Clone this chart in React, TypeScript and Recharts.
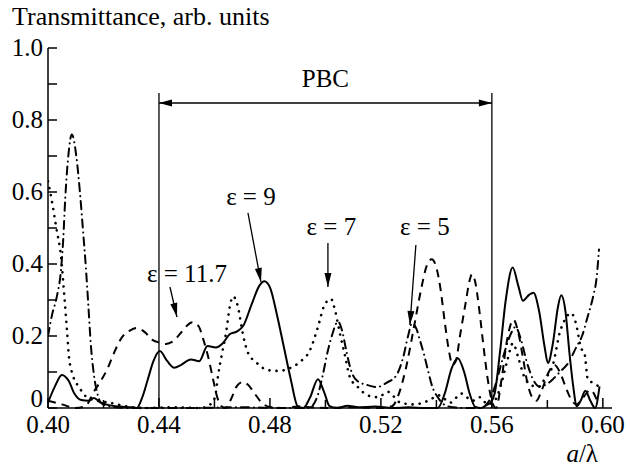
import React from 'react';
import { LineChart, Line, XAxis, YAxis, ReferenceLine } from 'recharts';

const FONT = "'Liberation Serif', 'Times New Roman', Times, serif";

// Tick values and labels
const xTicks = [0.4, 0.42, 0.44, 0.46, 0.48, 0.5, 0.52, 0.54, 0.56, 0.58, 0.6];
const xLabels = ['0.40', '0.44', '0.48', '0.52', '0.56', '0.60'];
const yTicks = [0, 0.1, 0.2, 0.3, 0.4, 0.5, 0.6, 0.7, 0.8, 0.9, 1.0];
const yLabels = ['0', '0.2', '0.4', '0.6', '0.8', '1.0'];

// eps = 9 (solid)
const eps9 = [
  [0.4, 0.015], [0.4025, 0.06], [0.405, 0.092], [0.4075, 0.075], [0.4095, 0.04], [0.412, 0.022],
  [0.4145, 0.02], [0.4165, 0.028], [0.419, 0.015], [0.422, 0.008], [0.426, 0.004], [0.43, 0.002],
  [0.432, 0.0], [0.434, 0.03], [0.436, 0.08], [0.438, 0.13], [0.4403, 0.158], [0.443, 0.13],
  [0.4455, 0.112], [0.448, 0.12], [0.4515, 0.135], [0.4545, 0.13], [0.4575, 0.172], [0.4605, 0.168],
  [0.463, 0.18], [0.4655, 0.205], [0.468, 0.212], [0.4705, 0.23], [0.4735, 0.29], [0.4762, 0.34],
  [0.478, 0.352], [0.48, 0.335], [0.4825, 0.26], [0.485, 0.17], [0.4875, 0.08], [0.49, 0.005],
  [0.492, 0.0], [0.4945, 0.03], [0.4973, 0.08], [0.4995, 0.045], [0.5015, 0.005], [0.504, 0.0],
  [0.508, 0.006], [0.512, 0.002], [0.518, 0.004], [0.524, 0.0], [0.53, 0.002], [0.536, 0.0],
  [0.5405, 0.0], [0.543, 0.04], [0.5455, 0.11], [0.5477, 0.138], [0.55, 0.1], [0.552, 0.04],
  [0.554, 0.003], [0.556, 0.0], [0.558, 0.008], [0.5595, 0.015], [0.561, 0.04], [0.563, 0.16],
  [0.565, 0.3], [0.5675, 0.39], [0.5695, 0.34], [0.5712, 0.298], [0.5735, 0.315], [0.575, 0.32],
  [0.577, 0.27], [0.579, 0.17], [0.5802, 0.125], [0.582, 0.18], [0.5838, 0.28], [0.585, 0.313],
  [0.5865, 0.27], [0.588, 0.15], [0.5895, 0.05], [0.5905, 0.005], [0.592, 0.02], [0.5937, 0.048],
  [0.5955, 0.02], [0.5972, 0.0], [0.5988, 0.06],
];

// eps = 11.7 (dashed)
const eps117 = [
  [0.4, 0.02], [0.405, 0.01], [0.41, 0.0], [0.4135, 0.005], [0.4165, 0.045], [0.419, 0.075],
  [0.4215, 0.11], [0.4238, 0.153], [0.4267, 0.197], [0.4295, 0.215], [0.432, 0.222], [0.435, 0.21],
  [0.4375, 0.19], [0.44, 0.182], [0.4425, 0.178], [0.445, 0.185], [0.4475, 0.205], [0.45, 0.228],
  [0.452, 0.238], [0.4542, 0.228], [0.456, 0.19], [0.4578, 0.14], [0.4595, 0.08], [0.461, 0.03],
  [0.4625, 0.005], [0.464, 0.0], [0.466, 0.025], [0.468, 0.06], [0.4702, 0.072], [0.472, 0.065],
  [0.4745, 0.04], [0.477, 0.015], [0.48, 0.003], [0.485, 0.0], [0.49, 0.004], [0.5, 0.0],
  [0.51, 0.002], [0.52, 0.0], [0.524, 0.005], [0.5265, 0.04], [0.529, 0.11], [0.5318, 0.22],
  [0.5345, 0.33], [0.5365, 0.395], [0.5383, 0.413], [0.54, 0.39], [0.5415, 0.33], [0.543, 0.24],
  [0.5445, 0.16], [0.5458, 0.12], [0.547, 0.13], [0.5485, 0.2], [0.5505, 0.29], [0.552, 0.355],
  [0.5528, 0.372], [0.554, 0.35], [0.5555, 0.27], [0.557, 0.17], [0.5585, 0.08], [0.56, 0.02],
  [0.5615, 0.0], [0.5635, 0.08], [0.5655, 0.19], [0.5678, 0.245], [0.5695, 0.21], [0.5712, 0.14],
  [0.5728, 0.07], [0.5745, 0.03], [0.576, 0.02], [0.578, 0.05], [0.5805, 0.1], [0.5825, 0.12],
  [0.5845, 0.1], [0.5865, 0.06], [0.5885, 0.025], [0.5905, 0.01], [0.593, 0.03], [0.5955, 0.05],
  [0.598, 0.02],
];

// eps = 7 (dotted)
const eps7 = [
  [0.4, 0.63], [0.4015, 0.57], [0.403, 0.5], [0.4047, 0.42], [0.4058, 0.32], [0.4068, 0.22],
  [0.4076, 0.14], [0.409, 0.09], [0.4112, 0.058], [0.414, 0.03], [0.418, 0.02], [0.422, 0.015],
  [0.428, 0.005], [0.435, 0.0], [0.445, 0.002], [0.455, 0.0], [0.4585, 0.01], [0.4602, 0.03],
  [0.4613, 0.09], [0.4627, 0.15], [0.4642, 0.21], [0.4655, 0.28], [0.4667, 0.31], [0.4685, 0.28],
  [0.47, 0.215], [0.472, 0.155], [0.4753, 0.125], [0.4793, 0.105], [0.483, 0.103], [0.487, 0.11],
  [0.4908, 0.128], [0.4944, 0.16], [0.4973, 0.225], [0.4995, 0.283], [0.502, 0.303], [0.5035, 0.27],
  [0.5052, 0.208], [0.507, 0.147], [0.5088, 0.086], [0.5117, 0.058], [0.5153, 0.035], [0.519, 0.03],
  [0.5225, 0.045], [0.527, 0.015], [0.532, 0.01], [0.537, 0.02], [0.541, 0.035], [0.545, 0.015],
  [0.549, 0.04], [0.553, 0.02], [0.5557, 0.03], [0.5585, 0.01], [0.561, 0.02], [0.5635, 0.07],
  [0.5655, 0.13], [0.5676, 0.18], [0.5695, 0.14], [0.5715, 0.09], [0.574, 0.065], [0.5766, 0.058],
  [0.579, 0.08], [0.582, 0.12], [0.5845, 0.21], [0.5863, 0.245], [0.5885, 0.264], [0.5903, 0.235],
  [0.592, 0.17], [0.5935, 0.147], [0.5946, 0.078], [0.5965, 0.07], [0.5985, 0.06],
];

// eps = 5 (dash-dot)
const eps5 = [
  [0.4, 0.2], [0.4015, 0.26], [0.4032, 0.31], [0.4047, 0.385], [0.4055, 0.47], [0.4062, 0.58],
  [0.4072, 0.69], [0.4086, 0.76], [0.4102, 0.7], [0.4115, 0.6], [0.4126, 0.495], [0.4137, 0.385],
  [0.4145, 0.29], [0.4155, 0.17], [0.4166, 0.09], [0.4178, 0.04], [0.419, 0.015], [0.422, 0.005],
  [0.43, 0.0], [0.45, 0.0], [0.47, 0.002], [0.485, 0.0], [0.494, 0.0], [0.497, 0.03],
  [0.499, 0.09], [0.5009, 0.16], [0.5023, 0.2], [0.5045, 0.24], [0.506, 0.215], [0.5075, 0.16],
  [0.509, 0.11], [0.5115, 0.075], [0.515, 0.064], [0.5186, 0.058], [0.522, 0.07], [0.5255, 0.09],
  [0.528, 0.14], [0.5298, 0.2], [0.5312, 0.235], [0.5328, 0.22], [0.534, 0.19], [0.5355, 0.15],
  [0.5368, 0.11], [0.5385, 0.06], [0.5405, 0.03], [0.544, 0.005], [0.55, 0.0], [0.556, 0.0],
  [0.559, 0.02], [0.5615, 0.07], [0.564, 0.14], [0.5665, 0.2], [0.5685, 0.225], [0.5705, 0.19],
  [0.5725, 0.13], [0.5748, 0.08], [0.577, 0.06], [0.5795, 0.065], [0.582, 0.08], [0.5845, 0.1],
  [0.5875, 0.125], [0.5905, 0.17], [0.5925, 0.2], [0.5945, 0.253], [0.5965, 0.31], [0.5978, 0.365],
  [0.5986, 0.44],
];

// Annotations (data coordinates)
const pbcRange = [0.44, 0.56];
const pbcTop = 0.875;
const pbcArrowY = 0.847;
const notes = [
  { text: 'ε = 11.7', tail: [0.44396, 0.3361], tip: [0.44649, 0.2528], dx: 17, dy: -5 },
  { text: 'ε = 9', tail: [0.47207, 0.5417], tip: [0.47676, 0.35], dx: 3, dy: -8 },
  { text: 'ε = 7', tail: [0.5009, 0.4583], tip: [0.5009, 0.3361], dx: 3.5, dy: -8 },
  { text: 'ε = 5', tail: [0.53261, 0.4528], tip: [0.53045, 0.2306], dx: 9, dy: -10 },
];

const toData = (pts: number[][]) => pts.map(([x, y]) => ({ x, y }));

const XTick = (props: any) => {
  const { x, y, payload } = props;
  const label = Number(payload.value).toFixed(2);
  const major = xLabels.includes(label);
  return (
    <g>
      <line x1={x} x2={x} y1={y} y2={y - (major ? 10 : 8)} stroke="#000" strokeWidth={1.5} />
      {major && (
        <text x={x} y={y + 25} textAnchor="middle" fontSize={25} fontFamily={FONT} fill="#000">
          {label}
        </text>
      )}
    </g>
  );
};

const YTick = (props: any) => {
  const { x, y, payload } = props;
  const v = Number(payload.value);
  const label = v === 0 ? '0' : v.toFixed(1);
  const major = yLabels.includes(label);
  return (
    <g>
      <line x1={x} x2={x + 9} y1={y} y2={y} stroke="#000" strokeWidth={1.5} />
      {major && (
        <text x={x - 5} y={v === 0 ? y - 1 : y + 8} textAnchor="end" fontSize={25} fontFamily={FONT} fill="#000">
          {label}
        </text>
      )}
    </g>
  );
};

const head = (tx: number, ty: number, fx: number, fy: number, len = 13, hw = 3.5) => {
  const dx = tx - fx;
  const dy = ty - fy;
  const d = Math.sqrt(dx * dx + dy * dy) || 1;
  const ux = dx / d;
  const uy = dy / d;
  const bx = tx - ux * len;
  const by = ty - uy * len;
  return `${tx},${ty} ${bx - uy * hw},${by + ux * hw} ${bx + uy * hw},${by - ux * hw}`;
};

const pbcShape = (p: any) => {
  const { x1, y1, x2, y2 } = p;
  return (
    <g>
      <line x1={x1} y1={y1} x2={x2} y2={y2} stroke="#000" strokeWidth={1.5} />
      <polygon points={head(x1, y1, x2, y2)} fill="#000" />
      <polygon points={head(x2, y2, x1, y1)} fill="#000" />
      <text x={(x1 + x2) / 2} y={y1 - 16} textAnchor="middle" fontSize={25} fontFamily={FONT} fill="#000">
        PBC
      </text>
    </g>
  );
};

const noteShape = (text: string, dx: number, dy: number) => (p: any) => {
  const { x1, y1, x2, y2 } = p;
  return (
    <g>
      <line x1={x1} y1={y1} x2={x2} y2={y2} stroke="#000" strokeWidth={1.3} />
      <polygon points={head(x2, y2, x1, y1, 14, 3.5)} fill="#000" />
      <text x={x1 + dx} y={y1 + dy} textAnchor="middle" fontSize={25} fontFamily={FONT} fill="#000">
        {text}
      </text>
    </g>
  );
};

export default function App() {
  return (
    <div style={{ position: 'absolute', left: 0, top: 0, width: 630, height: 470, background: '#fff' }}>
      <LineChart width={630} height={470} margin={{ top: 48, right: 18, bottom: 0, left: 0 }}>
        <XAxis
          type="number"
          dataKey="x"
          domain={[0.4, 0.6033]}
          ticks={xTicks}
          interval={0}
          allowDataOverflow
          height={62}
          tickSize={0}
          tickMargin={0}
          tickLine={false}
          axisLine={{ stroke: '#000', strokeWidth: 1.5 }}
          tick={<XTick />}
        />
        <YAxis
          type="number"
          domain={[0, 1]}
          ticks={yTicks}
          interval={0}
          width={48}
          tickSize={0}
          tickMargin={0}
          tickLine={false}
          axisLine={{ stroke: '#000', strokeWidth: 1.5 }}
          tick={<YTick />}
        />
        <ReferenceLine
          segment={[{ x: pbcRange[0], y: 0 }, { x: pbcRange[0], y: pbcTop }]}
          stroke="#000"
          strokeWidth={1.3}
        />
        <ReferenceLine
          segment={[{ x: pbcRange[1], y: 0 }, { x: pbcRange[1], y: pbcTop }]}
          stroke="#000"
          strokeWidth={1.3}
        />
        <ReferenceLine
          segment={[{ x: pbcRange[0], y: pbcArrowY }, { x: pbcRange[1], y: pbcArrowY }]}
          shape={pbcShape}
        />
        {notes.map((n) => (
          <ReferenceLine
            key={n.text}
            segment={[{ x: n.tail[0], y: n.tail[1] }, { x: n.tip[0], y: n.tip[1] }]}
            shape={noteShape(n.text, n.dx, n.dy)}
          />
        ))}
        <Line data={toData(eps9)} dataKey="y" type="monotone" dot={false} stroke="#000" strokeWidth={2} isAnimationActive={false} />
        <Line data={toData(eps117)} dataKey="y" type="monotone" dot={false} stroke="#000" strokeWidth={2} strokeDasharray="8 6" isAnimationActive={false} />
        <Line data={toData(eps7)} dataKey="y" type="monotone" dot={false} stroke="#000" strokeWidth={2.6} strokeDasharray="0.1 7" strokeLinecap="round" isAnimationActive={false} />
        <Line data={toData(eps5)} dataKey="y" type="monotone" dot={false} stroke="#000" strokeWidth={2} strokeDasharray="8 5 0.1 5" strokeLinecap="round" isAnimationActive={false} />
      </LineChart>
      <svg width={630} height={470} style={{ position: 'absolute', left: 0, top: 0, pointerEvents: 'none' }}>
        <text x={12} y={25} fontSize={26} fontFamily={FONT} fill="#000">Transmittance, arb. units</text>
        <text x={598} y={462} textAnchor="end" fontSize={25} fontFamily={FONT} fill="#000">
          <tspan fontStyle="italic">a</tspan>/λ
        </text>
      </svg>
    </div>
  );
}
